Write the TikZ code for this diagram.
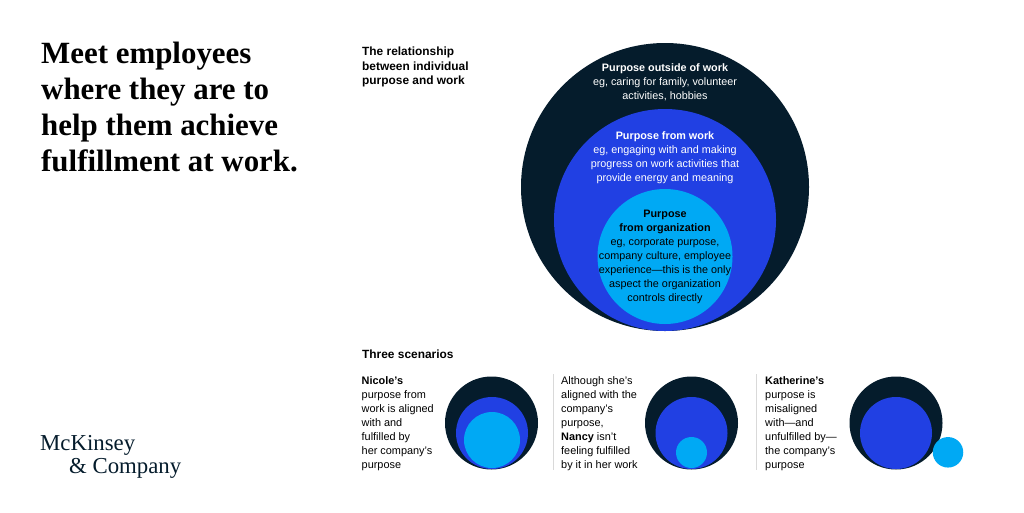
\documentclass[tikz,border=0pt]{standalone}
\usepackage{fontspec}
\setmainfont{Liberation Sans}
\newfontfamily\headfont{Liberation Serif}
\usetikzlibrary{positioning}
\definecolor{deepblue}{HTML}{051C2C}
\definecolor{elecblue}{HTML}{2140E3}
\definecolor{cyanblue}{HTML}{00A9F4}
\tikzset{
disc/.style={circle,fill=#1,inner sep=0pt,outer sep=0pt},
headline/.style={anchor=north west,align=left,inner sep=0pt,font=\headfont\bfseries\fontsize{30.9}{36}\selectfont,text=black},
caption/.style={anchor=north west,align=left,inner sep=0pt,font=\fontsize{10.9}{14}\selectfont,text=black},
sechead/.style={caption,font=\bfseries\fontsize{11.9}{14.5}\selectfont},
disclabel/.style={anchor=north,align=center,inner sep=0pt,font=\fontsize{10.8}{14}\selectfont,text=#1},
divider/.style={black!15,line width=1.2pt},
}
\begin{document}
\begin{tikzpicture}[x=1pt,y=-1pt]
    \useasboundingbox (0,0) rectangle (1024,512);

    % title and logo
    \node[headline] (title) at (41,41.5) {Meet employees\\where they are to\\help them achieve\\fulfillment at work.};
    \node[inner sep=0pt,anchor=north west,align=left,font=\headfont\fontsize{22.8}{23}\selectfont,text=deepblue] (logo) at (40,435)
        {McKinsey\\\hspace*{29pt}\& Company};

    % main circles
    \node[sechead] (relation) at (362,47) {The relationship\\between individual\\purpose and work};
    \node[disc=deepblue,minimum size=288pt] (outer) at (665,187) {};
    \node[disc=elecblue,minimum size=222pt] (middle) at (665,220) {};
    \node[disc=cyanblue,minimum size=135pt] (inner) at (665,256.5) {};
    \node[disclabel=white] (outertext) at (665,63.5) {\textbf{Purpose outside of work}\\eg, caring for family, volunteer\\activities, hobbies};
    \node[disclabel=white] (middletext) at (665,131.5) {\textbf{Purpose from work}\\eg, engaging with and making\\progress on work activities that\\provide energy and meaning};
    \node[disclabel=black] (innertext) at (665,209.5) {\textbf{Purpose}\\\textbf{from organization}\\eg, corporate purpose,\\company culture, employee\\experience---this is the only\\aspect the organization\\controls directly};

    % scenarios
    \node[sechead] (scenarios) at (362,350) {Three scenarios};

    \node[caption] (nicole) at (361.5,376) {\textbf{Nicole's}\\purpose from\\work is aligned\\with and\\fulfilled by\\her company's\\purpose};
    \node[disc=deepblue,minimum size=93pt] (nicoleouter) at (491.5,423) {};
    \node[disc=elecblue,minimum size=72pt] (nicolemiddle) at (492,433) {};
    \node[disc=cyanblue,minimum size=56pt] (nicoleinner) at (492,440) {};

    \coordinate (divA) at (553.7,374);
    \draw[divider] (divA) -- +(0,96);

    \node[caption] (nancy) at (561,376) {Although she's\\aligned with the\\company's\\purpose,\\\textbf{Nancy} isn't\\feeling fulfilled\\by it in her work};
    \node[disc=deepblue,minimum size=93pt] (nancyouter) at (691.5,423) {};
    \node[disc=elecblue,minimum size=72pt] (nancymiddle) at (691.5,433) {};
    \node[disc=cyanblue,minimum size=31pt] (nancyinner) at (691.5,452.5) {};

    \coordinate (divB) at (756.3,374);
    \draw[divider] (divB) -- +(0,96);

    \node[caption] (katherine) at (765,376) {\textbf{Katherine's}\\purpose is\\misaligned\\with---and\\unfulfilled by---\\the company's\\purpose};
    \node[disc=deepblue,minimum size=93pt] (katherineouter) at (896,423) {};
    \node[disc=elecblue,minimum size=72pt] (katherinemiddle) at (896,433) {};
    \node[disc=cyanblue,minimum size=30.5pt] (katherineinner) at (948,452.3) {};
\end{tikzpicture}
\end{document}
